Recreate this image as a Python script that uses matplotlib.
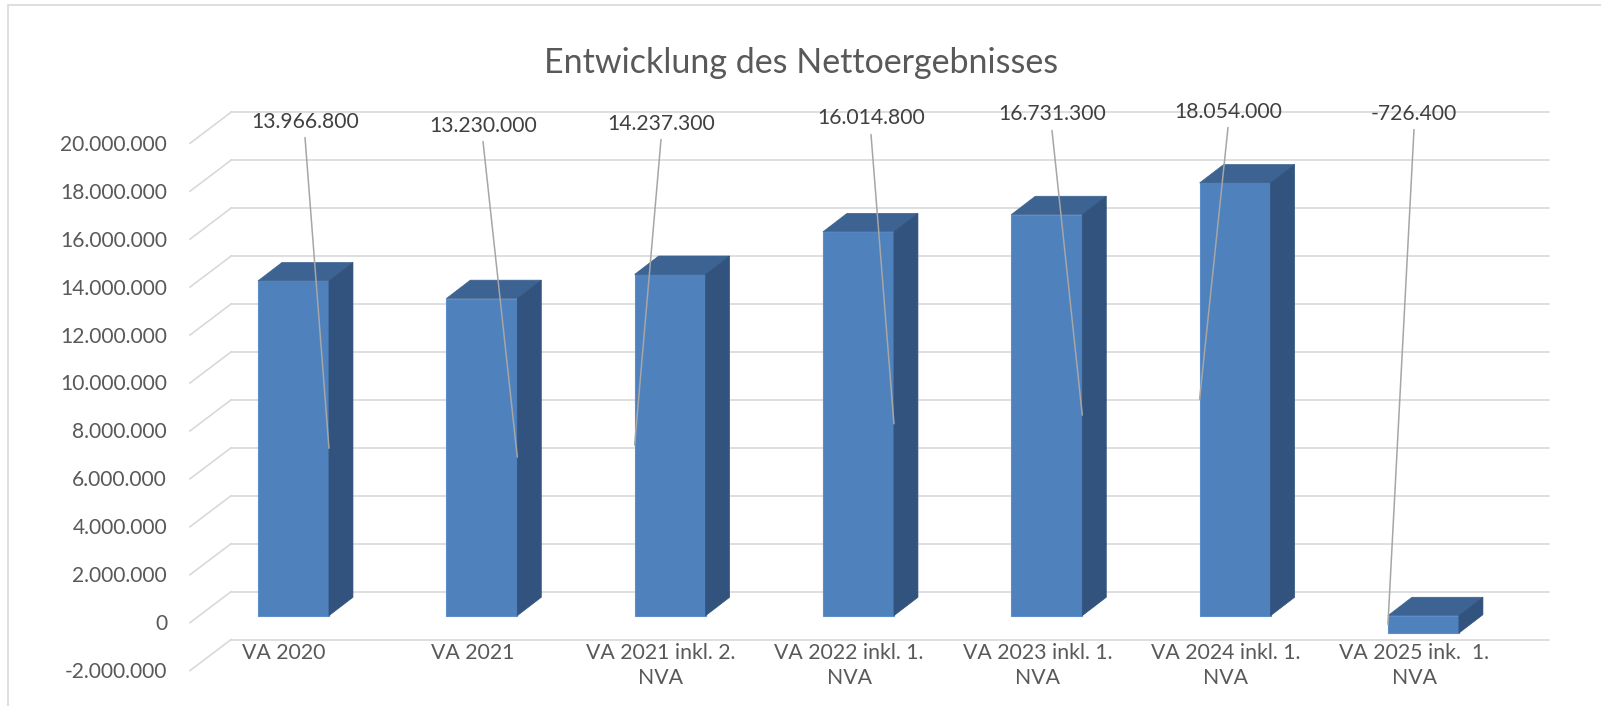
import matplotlib
matplotlib.use('Agg')
import matplotlib.pyplot as plt
from matplotlib.patches import Polygon, Rectangle

# data
categories = ['VA 2020', 'VA 2021', 'VA 2021 inkl. 2.\nNVA', 'VA 2022 inkl. 1.\nNVA',
              'VA 2023 inkl. 1.\nNVA', 'VA 2024 inkl. 1.\nNVA', 'VA 2025 ink.  1.\nNVA']
values = [13966800, 13230000, 14237300, 16014800, 16731300, 18054000, -726400]
yticks = [-2000000, 0, 2000000, 4000000, 6000000, 8000000, 10000000,
          12000000, 14000000, 16000000, 18000000, 20000000]

# where the data labels were dragged to (image pixels) and which bar edge the leader hits
lbl_pos = [(305, 120), (483, 124), (661, 122), (871, 117), (1052, 113), (1228, 110), (1414, 112)]
lbl_side = ['R', 'R', 'L', 'R', 'R', 'L', 'L']

W, H = 1601, 706
plt.rcParams['font.family'] = ['Lato', 'DejaVu Sans']

fig = plt.figure(figsize=(W / 100, H / 100), dpi=100)
ax = fig.add_axes([231 / W, (H - 639.6) / H, 1318.3 / W, 527.3 / H])
ax.set_xlim(-0.5, 6.5)
ax.set_ylim(-2e6, 20e6)
ax.axis('off')

# pixel -> data conversion for the fake 3d depth
px_x = 1318.3 / 7
px_y = 527.3 / 22e6
def off(dx, dy):  # dy in image pixels (down is positive)
    return dx / px_x, -dy / px_y
front = off(-31.7, 24)   # front face of the columns
back = off(-7.7, 5.6)    # back face of the columns
floor = off(-41, 31)     # front edge of the side wall
bw = 71 / px_x

renderer = fig.canvas.get_renderer()
def fit(s, target):  # font size so that string s is target px wide
    t = fig.text(0, 0, s, fontsize=10)
    w = t.get_window_extent(renderer).width
    t.remove()
    return 10 * target / w

fs_tick = fit('20.000.000', 107)
fs_lbl = fit('13.966.800', 108)
fs_cat = fit('VA 2021 inkl. 2.', 150)
fs_title = fit('Entwicklung des Nettoergebnisses', 514)

grid_c = '#D9D9D9'
for v in yticks:
    ax.plot([-0.5, 6.5], [v, v], color=grid_c, lw=1.2, clip_on=False, zorder=1)
    ax.plot([-0.5 + floor[0], -0.5], [v + floor[1], v], color=grid_c, lw=1.2, clip_on=False, zorder=1)
    ax.annotate(f'{v:,}'.replace(',', '.'), xy=(-0.5, v), xytext=(-64, -38.5),
                textcoords='offset pixels', ha='right', va='baseline',
                fontsize=fs_tick, color='#595959', annotation_clip=False)

# columns
xs = list(range(len(values)))
ax.bar([x + front[0] for x in xs], values, width=bw, bottom=front[1], color='#4F81BD',
       edgecolor='#5C8ECB', lw=0.8, clip_on=False, zorder=3)
for i, v in enumerate(values):
    x0, x1 = i - bw / 2, i + bw / 2
    top, bot = max(v, 0), min(v, 0)
    ax.add_patch(Polygon([(x0 + front[0], top + front[1]), (x1 + front[0], top + front[1]),
                          (x1 + back[0], top + back[1]), (x0 + back[0], top + back[1])],
                         closed=True, fc='#3C6391', ec='#3C6391', lw=0.5, clip_on=False, zorder=3))
    ax.add_patch(Polygon([(x1 + front[0], bot + front[1]), (x1 + front[0], top + front[1]),
                          (x1 + back[0], top + back[1]), (x1 + back[0], bot + back[1])],
                         closed=True, fc='#32537D', ec='#32537D', lw=0.5, clip_on=False, zorder=3))

    # category label
    ax.annotate(categories[i], xy=(i, -2e6), xytext=(-41, -3), textcoords='offset pixels',
                ha='center', va='top', fontsize=fs_cat, color='#595959',
                linespacing=1.35, annotation_clip=False)

    # data label with leader line
    cx, cy = lbl_pos[i]
    ex = x1 if lbl_side[i] == 'R' else x0
    ax.annotate('', xy=(ex + front[0], v / 2 + front[1]), xycoords='data',
                xytext=(cx, H - (cy + 17.5)), textcoords='figure pixels',
                arrowprops=dict(arrowstyle='-', color='#A6A6A6', lw=1.1, shrinkA=0, shrinkB=0),
                annotation_clip=False, zorder=5)
    fig.text(cx / W, 1 - (cy + 7.5) / H, f'{v:,}'.replace(',', '.'), ha='center', va='baseline',
             fontsize=fs_lbl, color='#404040')

fig.text(801 / W, 1 - 73 / H, 'Entwicklung des Nettoergebnisses', ha='center', va='baseline',
         fontsize=fs_title, color='#595959')

# chart area border (only left and top visible)
fig.add_artist(Rectangle((8 / W, -0.1), 1.2, 1.1 - 5 / H, transform=fig.transFigure,
                         fill=False, ec='#D9D9D9', lw=1.2))

fig.savefig('out.png', dpi=100)
